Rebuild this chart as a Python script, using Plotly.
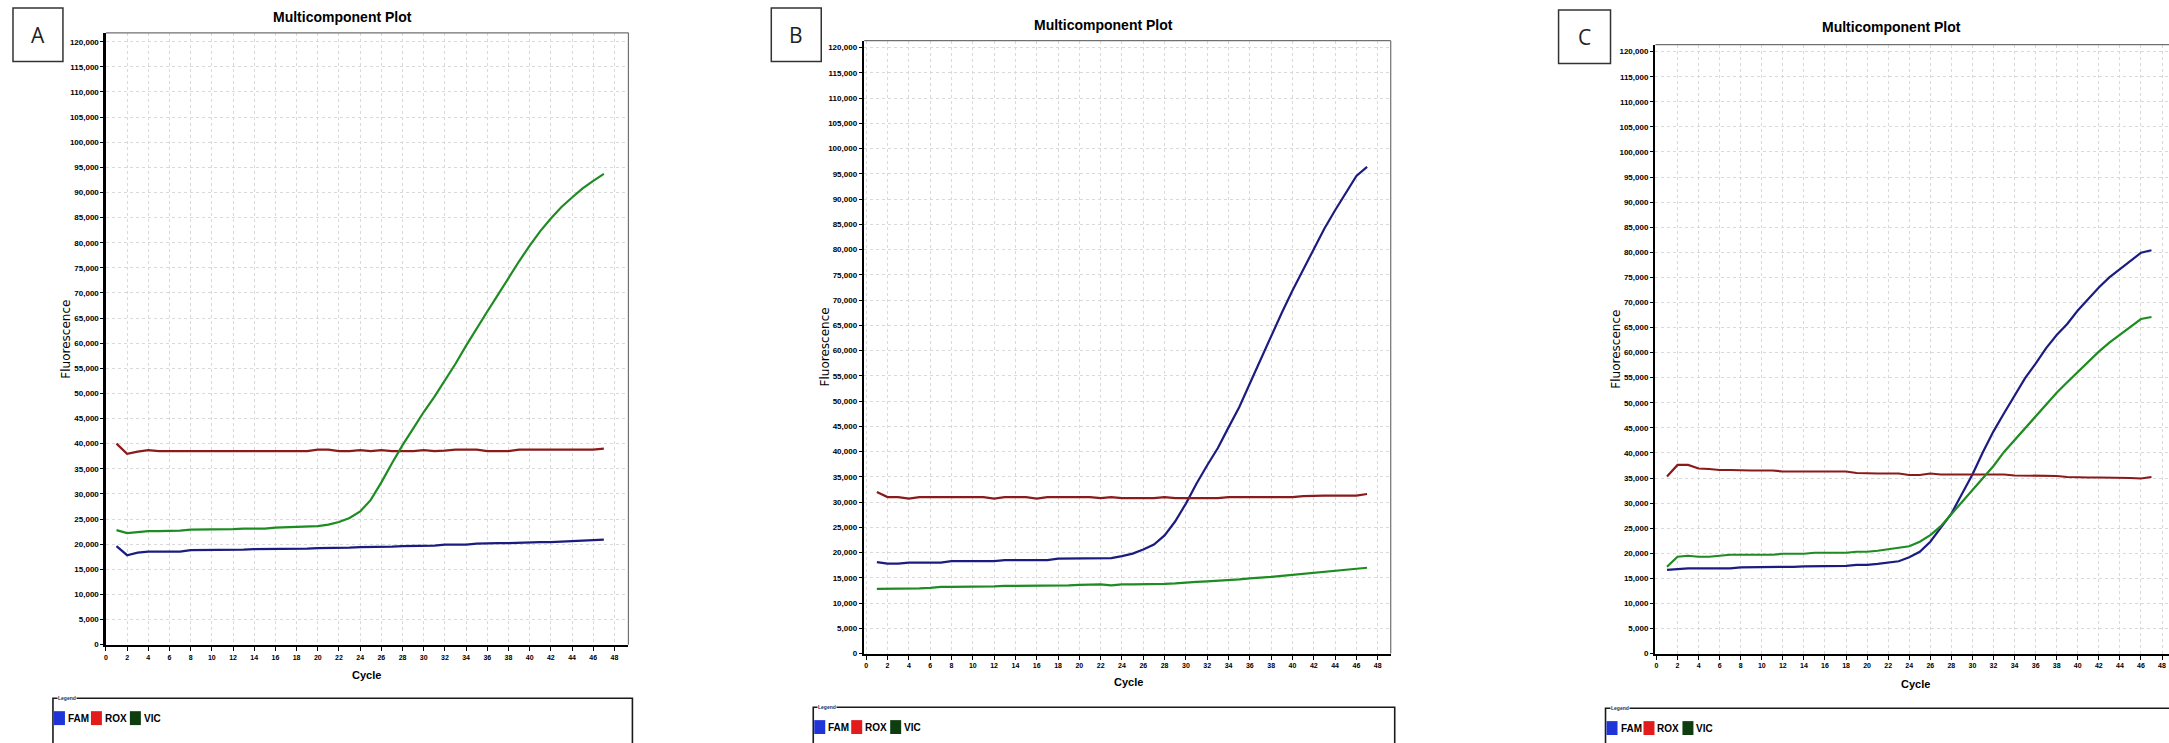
import plotly.graph_objects as go

# ---------------- data ----------------
cycles = list(range(1, 48))
series_names = ["FAM", "ROX", "VIC"]
panel_labels = ["A", "B", "C"]
chart_title = "Multicomponent Plot"
x_title = "Cycle"
y_title = "Fluorescence"
y_tick_vals = list(range(0, 120001, 5000))
x_tick_vals = list(range(0, 49, 2))

a_fam = [19600, 17800, 18300, 18500, 18500, 18500, 18500, 18800, 18800, 18800,
         18800, 18800, 18900, 19000, 19000, 19000, 19100, 19100, 19100, 19200,
         19200, 19200, 19300, 19400, 19400, 19400, 19500, 19600, 19600, 19600,
         19700, 19900, 19900, 19900, 20100, 20200, 20200, 20200, 20300, 20400,
         20400, 20400, 20500, 20600, 20600, 20700, 20900]
a_rox = [40000, 38000, 38400, 38700, 38500, 38500, 38500, 38500, 38500, 38500,
         38500, 38500, 38500, 38500, 38500, 38500, 38500, 38500, 38500, 38800,
         38800, 38500, 38500, 38700, 38500, 38700, 38500, 38500, 38500, 38700,
         38500, 38600, 38800, 38800, 38800, 38500, 38500, 38500, 38800, 38800,
         38800, 38800, 38800, 38800, 38800, 38800, 39000]
a_vic = [22800, 22200, 22400, 22600, 22600, 22600, 22700, 22900, 22900, 23000,
         23000, 23000, 23100, 23100, 23100, 23300, 23400, 23400, 23500, 23600,
         23900, 24400, 25200, 26500, 28800, 32300, 36100, 39700, 43000, 46300,
         49300, 52500, 55900, 59500, 63000, 66300, 69600, 73000, 76300, 79400,
         82300, 84800, 87100, 89000, 90800, 92300, 93700]

b_fam = [18100, 17800, 17800, 18000, 18000, 18000, 18000, 18300, 18300, 18300,
         18300, 18300, 18500, 18500, 18500, 18500, 18500, 18800, 18800, 18800,
         18800, 18800, 18900, 19300, 19800, 20600, 21600, 23400, 26200, 29700,
         33700, 37300, 40700, 44800, 48800, 53500, 58200, 62600, 67500, 71900,
         76000, 80000, 84200, 87800, 91200, 94600, 96400]
b_rox = [32000, 31000, 31000, 30700, 31000, 31000, 31000, 31000, 31000, 31000,
         31000, 30700, 31000, 31000, 31000, 30700, 31000, 31000, 31000, 31000,
         31000, 30800, 31000, 30800, 30800, 30900, 30800, 31000, 30800, 30800,
         30800, 30700, 30800, 31000, 31000, 31000, 31000, 31000, 31000, 31000,
         31200, 31300, 31300, 31300, 31300, 31300, 31600]
b_vic = [12800, 12800, 12900, 12900, 12900, 13000, 13200, 13200, 13200, 13300,
         13300, 13300, 13400, 13400, 13400, 13400, 13400, 13500, 13500, 13600,
         13700, 13700, 13500, 13700, 13700, 13700, 13800, 13800, 13900, 14100,
         14200, 14300, 14400, 14600, 14700, 14900, 15000, 15200, 15400, 15600,
         15800, 16000, 16200, 16500, 16700, 16800, 17000]

c_fam = [16700, 16900, 17000, 17000, 17000, 17000, 17000, 17200, 17200, 17200,
         17200, 17200, 17300, 17400, 17400, 17400, 17400, 17500, 17700, 17700,
         17900, 18100, 18400, 19200, 20300, 22300, 25000, 27900, 31800, 35700,
         40200, 44300, 47900, 51500, 54900, 57800, 60900, 63500, 65700, 68400,
         70800, 73000, 75000, 76600, 78300, 79900, 80400]
c_rox = [35300, 37600, 37600, 36900, 36800, 36600, 36600, 36500, 36500, 36500,
         36500, 36300, 36300, 36300, 36300, 36300, 36300, 36300, 36000, 35900,
         35900, 35900, 35900, 35600, 35600, 35900, 35700, 35700, 35700, 35700,
         35700, 35700, 35700, 35500, 35500, 35500, 35500, 35400, 35200, 35100,
         35100, 35100, 35100, 35100, 35000, 34900, 35200]
c_vic = [17300, 19300, 19500, 19300, 19300, 19500, 19700, 19700, 19700, 19700,
         19700, 19900, 19900, 19900, 20100, 20100, 20100, 20100, 20300, 20300,
         20500, 20800, 21100, 21400, 22300, 23600, 25400, 27800, 30300, 32700,
         34900, 37400, 40200, 42600, 45000, 47400, 49800, 52000, 54100, 56200,
         58300, 60200, 62000, 63600, 65100, 66700, 67100]

# ---------------- style / layout ----------------
W, H = 2169, 743
line_colors = ["#1c1c80", "#8b1a1a", "#1e8c22"]
swatch_colors = ["#1f35d8", "#e21c1c", "#0e3d10"]
BOLD = "Liberation Sans, Arial, sans-serif"

def px(x):
    return x / W

def py(y):
    return 1 - y / H

# pixel geometry of each panel
geoms = [
    dict(left=104, right=627, top=33, bottom=649, x0=104, x48=613, y120=42, frame_right=True,
         title=(341, 17), box=(11, 8, 61, 62), ylab=64, xlab=680, leg=(51, 631, 703)),
    dict(left=863, right=1390, top=41, bottom=658, x0=865, x48=1377, y120=48, frame_right=True,
         title=(1103, 25), box=(770, 8, 820, 62), ylab=824, xlab=687, leg=(812, 1394, 712)),
    dict(left=1655, right=2169, top=45, bottom=658, x0=1656, x48=2162, y120=52, frame_right=False,
         title=(1891, 27), box=(1558, 10, 1610, 64), ylab=1616, xlab=689, leg=(1605, 2180, 713)),
]
panel_data = [(a_fam, a_rox, a_vic), (b_fam, b_rox, b_vic), (c_fam, c_rox, c_vic)]

fig = go.Figure()
shapes = []
annotations = []
layout_axes = {}

for i, (g, data, label) in enumerate(zip(geoms, panel_data, panel_labels)):
    n = "" if i == 0 else str(i + 1)
    xa, ya = "x" + n, "y" + n
    for name, vals, col in zip(series_names, data, line_colors):
        fig.add_trace(go.Scatter(x=cycles, y=vals, mode="lines", name=name,
                                 line=dict(color=col, width=2.2),
                                 xaxis=xa, yaxis=ya, showlegend=False))
    ppc = (g["x48"] - g["x0"]) / 48.0
    xmin = (g["left"] - g["x0"]) / ppc
    xmax = (g["right"] - g["x0"]) / ppc
    ymax = 120000 * (g["bottom"] - g["top"]) / (g["bottom"] - g["y120"])
    axis_common = dict(showline=True, linecolor="black", linewidth=2.5, mirror=False,
                       ticks="outside", tickcolor="black", tickwidth=1,
                       showgrid=True, gridcolor="#d9d9d9", gridwidth=1, griddash="dot",
                       zeroline=False, fixedrange=True, ticklabeloverflow="allow")
    layout_axes["xaxis" + n] = dict(axis_common, domain=[px(g["left"]), px(g["right"])],
                                    anchor=ya, range=[xmin, xmax], tickvals=x_tick_vals,
                                    ticklen=4,
                                    tickfont=dict(family=BOLD, size=7, color="black", weight="bold"))
    layout_axes["yaxis" + n] = dict(axis_common, domain=[py(g["bottom"]), py(g["top"])],
                                    anchor=xa, range=[0, ymax], tickvals=y_tick_vals,
                                    tickformat=",d", ticklen=3,
                                    tickfont=dict(family=BOLD, size=8, color="black", weight="bold"))
    # thin frame top / right
    shapes.append(dict(type="line", xref="paper", yref="paper",
                       x0=px(g["left"]), x1=px(g["right"]), y0=py(g["top"]), y1=py(g["top"]),
                       line=dict(color="#707070", width=1.2)))
    if g["frame_right"]:
        shapes.append(dict(type="line", xref="paper", yref="paper",
                           x0=px(g["right"]), x1=px(g["right"]), y0=py(g["top"]), y1=py(g["bottom"]),
                           line=dict(color="#707070", width=1.2)))
    # title
    annotations.append(dict(text=chart_title, xref="paper", yref="paper",
                            x=px(g["title"][0]), y=py(g["title"][1]), showarrow=False,
                            xanchor="center", yanchor="middle",
                            font=dict(family=BOLD, size=14, color="black", weight="bold")))
    # panel label box
    bx0, by0, bx1, by1 = g["box"]
    shapes.append(dict(type="rect", xref="paper", yref="paper",
                       x0=px(bx0), x1=px(bx1), y0=py(by1), y1=py(by0),
                       line=dict(color="#333333", width=1.5), fillcolor="white"))
    annotations.append(dict(text=label, xref="paper", yref="paper",
                            x=px((bx0 + bx1) / 2), y=py((by0 + by1) / 2), showarrow=False,
                            xanchor="center", yanchor="middle",
                            font=dict(family="Open Sans, Liberation Sans, sans-serif", size=21, color="#222222")))
    # axis titles
    annotations.append(dict(text=y_title, xref="paper", yref="paper",
                            x=px(g["ylab"]), y=py((g["top"] + g["bottom"]) / 2), showarrow=False,
                            textangle=-90, xanchor="center", yanchor="middle",
                            font=dict(family="DejaVu Sans, sans-serif", size=12, color="black")))
    annotations.append(dict(text=x_title, xref="paper", yref="paper",
                            x=px(g["x0"] + 24.6 * ppc), y=py(g["xlab"]), showarrow=False,
                            xanchor="center", yanchor="middle",
                            font=dict(family=BOLD, size=11, color="black", weight="bold")))
    # legend box
    L, R, T = g["leg"]
    shapes.append(dict(type="rect", xref="paper", yref="paper",
                       x0=px(L), x1=px(R), y0=py(750), y1=py(T),
                       line=dict(color="#1a1a1a", width=1.6)))
    annotations.append(dict(text="Legend", xref="paper", yref="paper",
                            x=px(L + 4), y=py(T), showarrow=False,
                            xanchor="left", yanchor="middle", bgcolor="white", borderpad=0,
                            font=dict(family=BOLD, size=5, color="#203060", weight="bold")))
    yc = T + 20
    offsets = [1, 38, 77]
    for name, col, off in zip(series_names, swatch_colors, offsets):
        shapes.append(dict(type="rect", xref="paper", yref="paper",
                           x0=px(L + off), x1=px(L + off + 11), y0=py(yc + 7), y1=py(yc - 7),
                           line=dict(width=0), fillcolor=col))
        annotations.append(dict(text=name, xref="paper", yref="paper",
                                x=px(L + off + 12), y=py(yc), showarrow=False,
                                xanchor="left", yanchor="middle",
                                font=dict(family=BOLD, size=10, color="black", weight="bold")))

fig.update_layout(
    width=W, height=H, autosize=False,
    margin=dict(l=0, r=0, t=0, b=0),
    paper_bgcolor="white", plot_bgcolor="white",
    showlegend=False,
    shapes=shapes, annotations=annotations,
    **layout_axes,
)

fig.write_html("out.html",
               config={"displayModeBar": False, "staticPlot": True},
               post_script="document.body.style.margin='0px';document.body.style.overflow='hidden';")
